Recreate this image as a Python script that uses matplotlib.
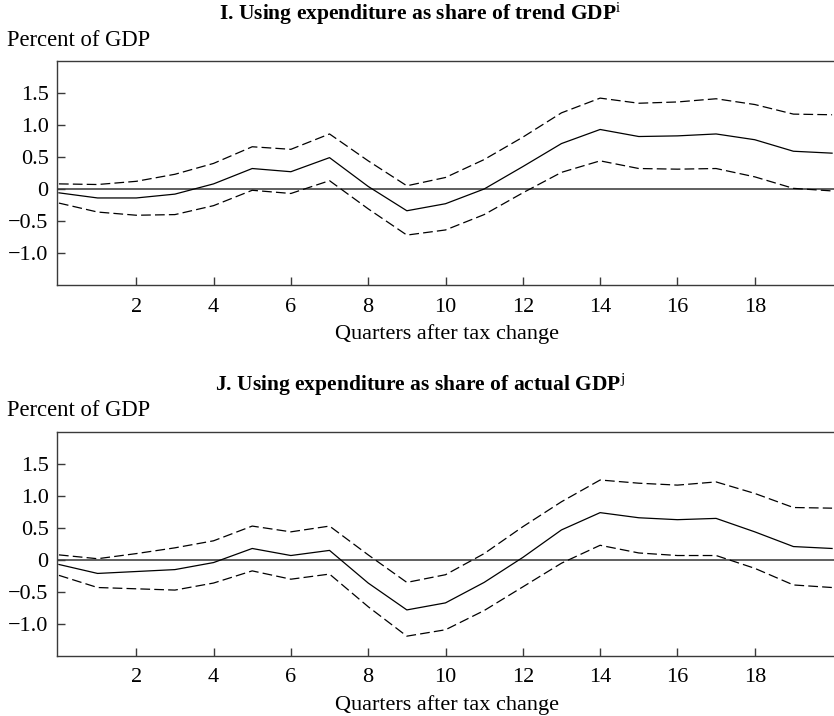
import matplotlib
matplotlib.use("Agg")
import matplotlib.pyplot as plt

plt.rcParams['font.family'] = ['Liberation Serif', 'DejaVu Serif']
plt.rcParams['mathtext.fontset'] = 'custom'
plt.rcParams['mathtext.rm'] = 'Liberation Serif'
plt.rcParams['mathtext.it'] = 'Liberation Serif:italic'
plt.rcParams['lines.scale_dashes'] = False

quarters = list(range(0, 21))

# Panel I: expenditure as share of trend GDP
i_mid = [-0.06, -0.14, -0.14, -0.08, 0.08, 0.32, 0.27, 0.49, 0.04, -0.34, -0.23,
         0.00, 0.35, 0.71, 0.93, 0.82, 0.83, 0.86, 0.77, 0.59, 0.56]
i_upper = [0.08, 0.07, 0.12, 0.23, 0.40, 0.66, 0.62, 0.86, 0.44, 0.05, 0.18,
           0.46, 0.81, 1.19, 1.42, 1.34, 1.36, 1.41, 1.32, 1.17, 1.16]
i_lower = [-0.22, -0.36, -0.41, -0.40, -0.26, -0.02, -0.07, 0.13, -0.31, -0.72, -0.64,
           -0.40, -0.06, 0.26, 0.44, 0.32, 0.31, 0.32, 0.19, 0.01, -0.03]

# Panel J: expenditure as share of actual GDP
j_mid = [-0.07, -0.21, -0.18, -0.15, -0.04, 0.18, 0.07, 0.15, -0.36, -0.78, -0.67,
         -0.35, 0.04, 0.47, 0.74, 0.66, 0.63, 0.65, 0.44, 0.21, 0.18]
j_upper = [0.08, 0.02, 0.10, 0.19, 0.30, 0.53, 0.44, 0.53, 0.08, -0.35, -0.23,
           0.10, 0.52, 0.91, 1.25, 1.20, 1.17, 1.22, 1.04, 0.82, 0.81]
j_lower = [-0.24, -0.43, -0.45, -0.47, -0.36, -0.17, -0.30, -0.22, -0.73, -1.19, -1.09,
           -0.79, -0.42, -0.05, 0.23, 0.11, 0.07, 0.07, -0.13, -0.39, -0.43]

xticks = [2, 4, 6, 8, 10, 12, 14, 16, 18]
yticks = [1.5, 1.0, 0.5, 0, -0.5, -1.0]
ytick_labels = ["1.5", "1.0", "0.5", "0", "\u22120.5", "\u22121.0"]

titles = ["I. Using expenditure as share of trend GDP$^{\\mathrm{i}}$",
          "J. Using expenditure as share of actual GDP$^{\\mathrm{j}}$"]
ylabel = "Percent of GDP"
xlabel = "Quarters after tax change"

W, H = 834, 716
fig = plt.figure(figsize=(W / 100, H / 100), dpi=100)

panels = [
    (i_mid, i_upper, i_lower, 61, 285),
    (j_mid, j_upper, j_lower, 432, 656),
]

spine_col = "#3a3a3a"
for k, (mid, up, lo, top_px, bot_px) in enumerate(panels):
    left_px = 57
    ax = fig.add_axes([left_px / W, 1 - bot_px / H, (W - left_px) / W, (bot_px - top_px) / H])
    ax.plot(quarters, up, color="black", lw=0.9, dashes=(7, 3))
    ax.plot(quarters, lo, color="black", lw=0.9, dashes=(7, 3))
    ax.plot(quarters, mid, color="black", lw=0.9)
    ax.axhline(0, color="#444444", lw=1.2, zorder=0)
    ax.set_xlim(-0.05, 20.05)
    ax.set_ylim(-1.5, 2.0)
    ax.set_xticks(xticks)
    ax.set_xticklabels([str(t) for t in xticks])
    ax.set_yticks(yticks)
    ax.set_yticklabels(ytick_labels)
    ax.tick_params(axis="both", direction="in", length=6, width=1.0, color=spine_col,
                   labelsize=16)
    ax.tick_params(axis="x", pad=9)
    ax.tick_params(axis="y", pad=6)
    for s in ["left", "bottom", "top"]:
        ax.spines[s].set_color(spine_col)
        ax.spines[s].set_linewidth(1.0)
    ax.spines["right"].set_visible(False)
    # x label
    fig.text(447 / W, 1 - (bot_px + 49) / H, xlabel, ha="center", va="center", fontsize=16)
    # title
    fig.text(420 / W, 1 - (top_px - 47) / H, titles[k], ha="center", va="center",
             fontsize=15.5, fontweight="bold")
    # y label
    fig.text(7 / W, 1 - (top_px - 21) / H, ylabel, ha="left", va="center", fontsize=16.3)

fig.savefig("out.png", dpi=100)
